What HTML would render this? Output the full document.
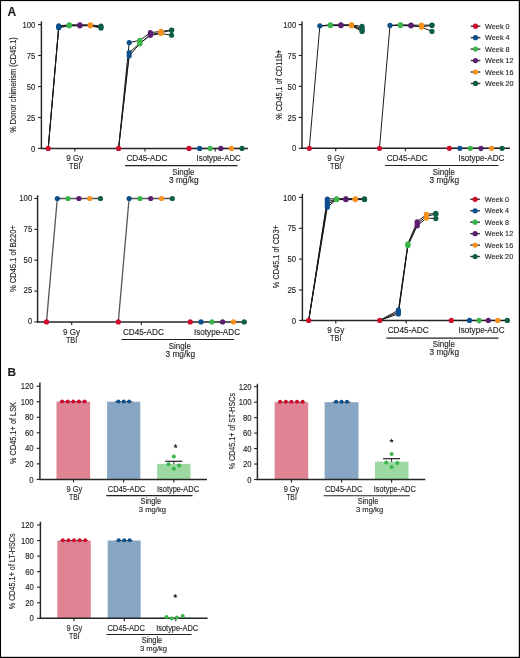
<!DOCTYPE html>
<html><head><meta charset="utf-8"><title>Figure</title>
<style>
html,body{margin:0;padding:0;background:#fff;}
body{width:520px;height:658px;overflow:hidden;}
svg{display:block;font-family:"Liberation Sans",sans-serif;fill:#231f20;}
svg text{fill:#231f20;stroke:#231f20;stroke-width:0.14px;}
</style></head><body>
<svg width="520" height="658" viewBox="0 0 520 658">
<rect x="0" y="0" width="520" height="658" fill="#fff"/>
<g style="will-change:transform">
<text x="7.40" y="15.70" font-size="12.0" font-weight="bold">A</text>
<line x1="41.40" y1="21.40" x2="41.40" y2="149.00" stroke="#262626" stroke-width="1.45"/>
<line x1="40.80" y1="148.40" x2="248.00" y2="148.40" stroke="#262626" stroke-width="1.45"/>
<line x1="38.10" y1="24.60" x2="41.40" y2="24.60" stroke="#231f20" stroke-width="1.1"/>
<text x="35.30" y="27.70" font-size="8.9" text-anchor="end" textLength="12.89" lengthAdjust="spacingAndGlyphs">100</text>
<line x1="38.10" y1="55.50" x2="41.40" y2="55.50" stroke="#231f20" stroke-width="1.1"/>
<text x="35.30" y="58.60" font-size="8.9" text-anchor="end" textLength="8.6" lengthAdjust="spacingAndGlyphs">75</text>
<line x1="38.10" y1="86.50" x2="41.40" y2="86.50" stroke="#231f20" stroke-width="1.1"/>
<text x="35.30" y="89.60" font-size="8.9" text-anchor="end" textLength="8.6" lengthAdjust="spacingAndGlyphs">50</text>
<line x1="38.10" y1="117.50" x2="41.40" y2="117.50" stroke="#231f20" stroke-width="1.1"/>
<text x="35.30" y="120.60" font-size="8.9" text-anchor="end" textLength="8.6" lengthAdjust="spacingAndGlyphs">25</text>
<line x1="38.10" y1="148.40" x2="41.40" y2="148.40" stroke="#231f20" stroke-width="1.1"/>
<text x="35.30" y="151.50" font-size="8.9" text-anchor="end" textLength="4.3" lengthAdjust="spacingAndGlyphs">0</text>
<text transform="translate(15.80,85.00) rotate(-90)" x="0" y="0" font-size="9.6" text-anchor="middle" textLength="95.5" lengthAdjust="spacingAndGlyphs">% Donor chimerism (CD45.1)</text>
<line x1="74.80" y1="148.40" x2="74.80" y2="151.40" stroke="#231f20" stroke-width="1.1"/>
<line x1="145.00" y1="148.40" x2="145.00" y2="151.40" stroke="#231f20" stroke-width="1.1"/>
<line x1="215.20" y1="148.40" x2="215.20" y2="151.40" stroke="#231f20" stroke-width="1.1"/>
<line x1="48.2" y1="148.4" x2="58.75" y2="25.84" stroke="#1a1a1a" stroke-width="1.0" stroke-linecap="round"/>
<line x1="58.75" y1="25.84" x2="69.3" y2="24.85" stroke="#1a1a1a" stroke-width="1.0" stroke-linecap="round"/>
<line x1="69.3" y1="24.85" x2="79.85" y2="24.85" stroke="#1a1a1a" stroke-width="1.0" stroke-linecap="round"/>
<line x1="79.85" y1="24.85" x2="90.4" y2="24.85" stroke="#1a1a1a" stroke-width="1.0" stroke-linecap="round"/>
<line x1="90.4" y1="24.85" x2="100.95" y2="26.09" stroke="#1a1a1a" stroke-width="1.0" stroke-linecap="round"/>
<line x1="48.2" y1="148.4" x2="58.75" y2="26.83" stroke="#1a1a1a" stroke-width="1.0" stroke-linecap="round"/>
<line x1="58.75" y1="26.83" x2="69.3" y2="25.34" stroke="#1a1a1a" stroke-width="1.0" stroke-linecap="round"/>
<line x1="69.3" y1="25.34" x2="79.85" y2="25.34" stroke="#1a1a1a" stroke-width="1.0" stroke-linecap="round"/>
<line x1="79.85" y1="25.34" x2="90.4" y2="25.34" stroke="#1a1a1a" stroke-width="1.0" stroke-linecap="round"/>
<line x1="90.4" y1="25.34" x2="100.95" y2="27.08" stroke="#1a1a1a" stroke-width="1.0" stroke-linecap="round"/>
<line x1="48.2" y1="148.4" x2="58.75" y2="27.69" stroke="#1a1a1a" stroke-width="1.0" stroke-linecap="round"/>
<line x1="58.75" y1="27.69" x2="69.3" y2="25.84" stroke="#1a1a1a" stroke-width="1.0" stroke-linecap="round"/>
<line x1="69.3" y1="25.84" x2="79.85" y2="25.84" stroke="#1a1a1a" stroke-width="1.0" stroke-linecap="round"/>
<line x1="79.85" y1="25.84" x2="90.4" y2="25.71" stroke="#1a1a1a" stroke-width="1.0" stroke-linecap="round"/>
<line x1="90.4" y1="25.71" x2="100.95" y2="28.07" stroke="#1a1a1a" stroke-width="1.0" stroke-linecap="round"/>
<line x1="118.6" y1="148.4" x2="129.2" y2="42.55" stroke="#1a1a1a" stroke-width="1.0" stroke-linecap="round"/>
<line x1="129.2" y1="42.55" x2="139.8" y2="40.32" stroke="#1a1a1a" stroke-width="1.0" stroke-linecap="round"/>
<line x1="139.8" y1="40.32" x2="150.4" y2="32.65" stroke="#1a1a1a" stroke-width="1.0" stroke-linecap="round"/>
<line x1="150.4" y1="32.65" x2="161.0" y2="31.41" stroke="#1a1a1a" stroke-width="1.0" stroke-linecap="round"/>
<line x1="161.0" y1="31.41" x2="171.6" y2="30.05" stroke="#1a1a1a" stroke-width="1.0" stroke-linecap="round"/>
<line x1="118.6" y1="148.4" x2="129.2" y2="52.7" stroke="#1a1a1a" stroke-width="1.0" stroke-linecap="round"/>
<line x1="129.2" y1="52.7" x2="139.8" y2="43.17" stroke="#1a1a1a" stroke-width="1.0" stroke-linecap="round"/>
<line x1="139.8" y1="43.17" x2="150.4" y2="35.37" stroke="#1a1a1a" stroke-width="1.0" stroke-linecap="round"/>
<line x1="150.4" y1="35.37" x2="161.0" y2="33.51" stroke="#1a1a1a" stroke-width="1.0" stroke-linecap="round"/>
<line x1="161.0" y1="33.51" x2="171.6" y2="35.25" stroke="#1a1a1a" stroke-width="1.0" stroke-linecap="round"/>
<line x1="118.6" y1="148.4" x2="129.2" y2="55.8" stroke="#1a1a1a" stroke-width="1.0" stroke-linecap="round"/>
<line x1="129.2" y1="55.8" x2="139.8" y2="43.79" stroke="#1a1a1a" stroke-width="1.0" stroke-linecap="round"/>
<line x1="139.8" y1="43.79" x2="150.4" y2="34.5" stroke="#1a1a1a" stroke-width="1.0" stroke-linecap="round"/>
<line x1="150.4" y1="34.5" x2="161.0" y2="32.65" stroke="#1a1a1a" stroke-width="1.0" stroke-linecap="round"/>
<line x1="161.0" y1="32.65" x2="171.6" y2="30.29" stroke="#1a1a1a" stroke-width="1.0" stroke-linecap="round"/>
<line x1="189.0" y1="148.4" x2="199.6" y2="148.4" stroke="#1a1a1a" stroke-width="1.0" stroke-linecap="round"/>
<line x1="199.6" y1="148.4" x2="210.2" y2="148.4" stroke="#1a1a1a" stroke-width="1.0" stroke-linecap="round"/>
<line x1="210.2" y1="148.4" x2="220.8" y2="148.4" stroke="#1a1a1a" stroke-width="1.0" stroke-linecap="round"/>
<line x1="220.8" y1="148.4" x2="231.4" y2="148.4" stroke="#1a1a1a" stroke-width="1.0" stroke-linecap="round"/>
<line x1="231.4" y1="148.4" x2="242.0" y2="148.4" stroke="#1a1a1a" stroke-width="1.0" stroke-linecap="round"/>
<circle cx="48.20" cy="148.40" r="2.6" fill="#cf0a2c"/>
<circle cx="58.75" cy="25.84" r="2.6" fill="#0b4f8c"/>
<circle cx="58.75" cy="26.83" r="2.6" fill="#0b4f8c"/>
<circle cx="58.75" cy="27.69" r="2.6" fill="#0b4f8c"/>
<circle cx="69.30" cy="24.85" r="2.6" fill="#3ab54a"/>
<circle cx="69.30" cy="25.34" r="2.6" fill="#3ab54a"/>
<circle cx="69.30" cy="25.84" r="2.6" fill="#3ab54a"/>
<circle cx="79.85" cy="24.85" r="2.6" fill="#5b1f72"/>
<circle cx="79.85" cy="25.34" r="2.6" fill="#5b1f72"/>
<circle cx="79.85" cy="25.84" r="2.6" fill="#5b1f72"/>
<circle cx="90.40" cy="24.85" r="2.6" fill="#f7901e"/>
<circle cx="90.40" cy="25.34" r="2.6" fill="#f7901e"/>
<circle cx="90.40" cy="25.71" r="2.6" fill="#f7901e"/>
<circle cx="100.95" cy="26.09" r="2.6" fill="#0d5e48"/>
<circle cx="100.95" cy="27.08" r="2.6" fill="#0d5e48"/>
<circle cx="100.95" cy="28.07" r="2.6" fill="#0d5e48"/>
<circle cx="118.60" cy="148.40" r="2.6" fill="#cf0a2c"/>
<circle cx="129.20" cy="42.55" r="2.6" fill="#0b4f8c"/>
<circle cx="129.20" cy="52.70" r="2.6" fill="#0b4f8c"/>
<circle cx="129.20" cy="55.80" r="2.6" fill="#0b4f8c"/>
<circle cx="139.80" cy="40.32" r="2.6" fill="#3ab54a"/>
<circle cx="139.80" cy="43.17" r="2.6" fill="#3ab54a"/>
<circle cx="139.80" cy="43.79" r="2.6" fill="#3ab54a"/>
<circle cx="150.40" cy="32.65" r="2.6" fill="#5b1f72"/>
<circle cx="150.40" cy="35.37" r="2.6" fill="#5b1f72"/>
<circle cx="150.40" cy="34.50" r="2.6" fill="#5b1f72"/>
<circle cx="161.00" cy="31.41" r="2.6" fill="#f7901e"/>
<circle cx="161.00" cy="33.51" r="2.6" fill="#f7901e"/>
<circle cx="161.00" cy="32.65" r="2.6" fill="#f7901e"/>
<circle cx="171.60" cy="30.05" r="2.6" fill="#0d5e48"/>
<circle cx="171.60" cy="35.25" r="2.6" fill="#0d5e48"/>
<circle cx="171.60" cy="30.29" r="2.6" fill="#0d5e48"/>
<circle cx="189.00" cy="148.40" r="2.6" fill="#cf0a2c"/>
<circle cx="199.60" cy="148.40" r="2.6" fill="#0b4f8c"/>
<circle cx="210.20" cy="148.40" r="2.6" fill="#3ab54a"/>
<circle cx="220.80" cy="148.40" r="2.6" fill="#5b1f72"/>
<circle cx="231.40" cy="148.40" r="2.6" fill="#f7901e"/>
<circle cx="242.00" cy="148.40" r="2.6" fill="#0d5e48"/>
<text x="74.80" y="160.80" font-size="8.4" text-anchor="middle" textLength="17.0" lengthAdjust="spacingAndGlyphs">9 Gy</text>
<text x="74.80" y="169.40" font-size="8.4" text-anchor="middle" textLength="11.4" lengthAdjust="spacingAndGlyphs">TBI</text>
<text x="146.90" y="160.80" font-size="8.4" text-anchor="middle" textLength="41" lengthAdjust="spacingAndGlyphs">CD45-ADC</text>
<text x="218.60" y="160.80" font-size="8.4" text-anchor="middle" textLength="44" lengthAdjust="spacingAndGlyphs">Isotype-ADC</text>
<line x1="125.00" y1="165.60" x2="237.50" y2="165.60" stroke="#231f20" stroke-width="1.1"/>
<text x="183.30" y="174.70" font-size="8.4" text-anchor="middle" textLength="22.2" lengthAdjust="spacingAndGlyphs">Single</text>
<text x="183.80" y="182.70" font-size="8.4" text-anchor="middle" textLength="29.5" lengthAdjust="spacingAndGlyphs">3 mg/kg</text>
<line x1="302.00" y1="21.40" x2="302.00" y2="148.90" stroke="#262626" stroke-width="1.45"/>
<line x1="301.40" y1="148.30" x2="510.00" y2="148.30" stroke="#262626" stroke-width="1.45"/>
<line x1="298.70" y1="24.60" x2="302.00" y2="24.60" stroke="#231f20" stroke-width="1.1"/>
<text x="296.20" y="27.70" font-size="8.9" text-anchor="end" textLength="12.89" lengthAdjust="spacingAndGlyphs">100</text>
<line x1="298.70" y1="55.50" x2="302.00" y2="55.50" stroke="#231f20" stroke-width="1.1"/>
<text x="296.20" y="58.60" font-size="8.9" text-anchor="end" textLength="8.6" lengthAdjust="spacingAndGlyphs">75</text>
<line x1="298.70" y1="86.40" x2="302.00" y2="86.40" stroke="#231f20" stroke-width="1.1"/>
<text x="296.20" y="89.50" font-size="8.9" text-anchor="end" textLength="8.6" lengthAdjust="spacingAndGlyphs">50</text>
<line x1="298.70" y1="117.40" x2="302.00" y2="117.40" stroke="#231f20" stroke-width="1.1"/>
<text x="296.20" y="120.50" font-size="8.9" text-anchor="end" textLength="8.6" lengthAdjust="spacingAndGlyphs">25</text>
<line x1="298.70" y1="148.30" x2="302.00" y2="148.30" stroke="#231f20" stroke-width="1.1"/>
<text x="296.20" y="151.40" font-size="8.9" text-anchor="end" textLength="4.3" lengthAdjust="spacingAndGlyphs">0</text>
<text transform="translate(282.20,84.70) rotate(-90)" x="0" y="0" font-size="9.6" text-anchor="middle" textLength="70" lengthAdjust="spacingAndGlyphs">% CD45.1 of CD11b+</text>
<line x1="335.70" y1="148.30" x2="335.70" y2="151.30" stroke="#231f20" stroke-width="1.1"/>
<line x1="405.40" y1="148.30" x2="405.40" y2="151.30" stroke="#231f20" stroke-width="1.1"/>
<line x1="480.90" y1="148.30" x2="480.90" y2="151.30" stroke="#231f20" stroke-width="1.1"/>
<line x1="309.3" y1="148.3" x2="319.85" y2="25.84" stroke="#1a1a1a" stroke-width="1.0" stroke-linecap="round"/>
<line x1="319.85" y1="25.84" x2="330.4" y2="24.85" stroke="#1a1a1a" stroke-width="1.0" stroke-linecap="round"/>
<line x1="330.4" y1="24.85" x2="340.95" y2="24.85" stroke="#1a1a1a" stroke-width="1.0" stroke-linecap="round"/>
<line x1="340.95" y1="24.85" x2="351.5" y2="24.85" stroke="#1a1a1a" stroke-width="1.0" stroke-linecap="round"/>
<line x1="351.5" y1="24.85" x2="362.05" y2="26.46" stroke="#1a1a1a" stroke-width="1.0" stroke-linecap="round"/>
<line x1="319.85" y1="25.84" x2="330.4" y2="25.22" stroke="#1a1a1a" stroke-width="1.0" stroke-linecap="round"/>
<line x1="330.4" y1="25.22" x2="340.95" y2="25.22" stroke="#1a1a1a" stroke-width="1.0" stroke-linecap="round"/>
<line x1="340.95" y1="25.22" x2="351.5" y2="25.22" stroke="#1a1a1a" stroke-width="1.0" stroke-linecap="round"/>
<line x1="351.5" y1="25.22" x2="362.05" y2="28.31" stroke="#1a1a1a" stroke-width="1.0" stroke-linecap="round"/>
<line x1="319.85" y1="25.84" x2="330.4" y2="25.59" stroke="#1a1a1a" stroke-width="1.0" stroke-linecap="round"/>
<line x1="330.4" y1="25.59" x2="340.95" y2="25.59" stroke="#1a1a1a" stroke-width="1.0" stroke-linecap="round"/>
<line x1="340.95" y1="25.59" x2="351.5" y2="25.59" stroke="#1a1a1a" stroke-width="1.0" stroke-linecap="round"/>
<line x1="351.5" y1="25.59" x2="362.05" y2="30.17" stroke="#1a1a1a" stroke-width="1.0" stroke-linecap="round"/>
<line x1="340.95" y1="25.22" x2="351.5" y2="25.71" stroke="#1a1a1a" stroke-width="1.0" stroke-linecap="round"/>
<line x1="351.5" y1="25.71" x2="362.05" y2="31.4" stroke="#1a1a1a" stroke-width="1.0" stroke-linecap="round"/>
<line x1="379.5" y1="148.3" x2="390.0" y2="25.47" stroke="#1a1a1a" stroke-width="1.0" stroke-linecap="round"/>
<line x1="390.0" y1="25.47" x2="400.5" y2="24.85" stroke="#1a1a1a" stroke-width="1.0" stroke-linecap="round"/>
<line x1="400.5" y1="24.85" x2="411.0" y2="25.09" stroke="#1a1a1a" stroke-width="1.0" stroke-linecap="round"/>
<line x1="411.0" y1="25.09" x2="421.5" y2="25.22" stroke="#1a1a1a" stroke-width="1.0" stroke-linecap="round"/>
<line x1="421.5" y1="25.22" x2="432.0" y2="25.09" stroke="#1a1a1a" stroke-width="1.0" stroke-linecap="round"/>
<line x1="390.0" y1="25.47" x2="400.5" y2="25.22" stroke="#1a1a1a" stroke-width="1.0" stroke-linecap="round"/>
<line x1="400.5" y1="25.22" x2="411.0" y2="25.47" stroke="#1a1a1a" stroke-width="1.0" stroke-linecap="round"/>
<line x1="411.0" y1="25.47" x2="421.5" y2="27.07" stroke="#1a1a1a" stroke-width="1.0" stroke-linecap="round"/>
<line x1="421.5" y1="27.07" x2="432.0" y2="31.4" stroke="#1a1a1a" stroke-width="1.0" stroke-linecap="round"/>
<line x1="390.0" y1="25.47" x2="400.5" y2="25.59" stroke="#1a1a1a" stroke-width="1.0" stroke-linecap="round"/>
<line x1="400.5" y1="25.59" x2="411.0" y2="25.84" stroke="#1a1a1a" stroke-width="1.0" stroke-linecap="round"/>
<line x1="411.0" y1="25.84" x2="421.5" y2="26.7" stroke="#1a1a1a" stroke-width="1.0" stroke-linecap="round"/>
<line x1="421.5" y1="26.7" x2="432.0" y2="25.47" stroke="#1a1a1a" stroke-width="1.0" stroke-linecap="round"/>
<line x1="449.3" y1="148.3" x2="459.85" y2="148.3" stroke="#1a1a1a" stroke-width="1.0" stroke-linecap="round"/>
<line x1="459.85" y1="148.3" x2="470.4" y2="148.3" stroke="#1a1a1a" stroke-width="1.0" stroke-linecap="round"/>
<line x1="470.4" y1="148.3" x2="480.95" y2="148.3" stroke="#1a1a1a" stroke-width="1.0" stroke-linecap="round"/>
<line x1="480.95" y1="148.3" x2="491.5" y2="148.3" stroke="#1a1a1a" stroke-width="1.0" stroke-linecap="round"/>
<line x1="491.5" y1="148.3" x2="502.05" y2="148.3" stroke="#1a1a1a" stroke-width="1.0" stroke-linecap="round"/>
<circle cx="309.30" cy="148.30" r="2.6" fill="#cf0a2c"/>
<circle cx="319.85" cy="25.84" r="2.6" fill="#0b4f8c"/>
<circle cx="330.40" cy="24.85" r="2.6" fill="#3ab54a"/>
<circle cx="330.40" cy="25.22" r="2.6" fill="#3ab54a"/>
<circle cx="330.40" cy="25.59" r="2.6" fill="#3ab54a"/>
<circle cx="340.95" cy="24.85" r="2.6" fill="#5b1f72"/>
<circle cx="340.95" cy="25.22" r="2.6" fill="#5b1f72"/>
<circle cx="340.95" cy="25.59" r="2.6" fill="#5b1f72"/>
<circle cx="351.50" cy="24.85" r="2.6" fill="#f7901e"/>
<circle cx="351.50" cy="25.22" r="2.6" fill="#f7901e"/>
<circle cx="351.50" cy="25.59" r="2.6" fill="#f7901e"/>
<circle cx="351.50" cy="25.71" r="2.6" fill="#f7901e"/>
<circle cx="362.05" cy="26.46" r="2.6" fill="#0d5e48"/>
<circle cx="362.05" cy="28.31" r="2.6" fill="#0d5e48"/>
<circle cx="362.05" cy="30.17" r="2.6" fill="#0d5e48"/>
<circle cx="362.05" cy="31.40" r="2.6" fill="#0d5e48"/>
<circle cx="379.50" cy="148.30" r="2.6" fill="#cf0a2c"/>
<circle cx="390.00" cy="25.47" r="2.6" fill="#0b4f8c"/>
<circle cx="400.50" cy="24.85" r="2.6" fill="#3ab54a"/>
<circle cx="400.50" cy="25.22" r="2.6" fill="#3ab54a"/>
<circle cx="400.50" cy="25.59" r="2.6" fill="#3ab54a"/>
<circle cx="411.00" cy="25.09" r="2.6" fill="#5b1f72"/>
<circle cx="411.00" cy="25.47" r="2.6" fill="#5b1f72"/>
<circle cx="411.00" cy="25.84" r="2.6" fill="#5b1f72"/>
<circle cx="421.50" cy="25.22" r="2.6" fill="#f7901e"/>
<circle cx="421.50" cy="27.07" r="2.6" fill="#f7901e"/>
<circle cx="421.50" cy="26.70" r="2.6" fill="#f7901e"/>
<circle cx="432.00" cy="25.09" r="2.6" fill="#0d5e48"/>
<circle cx="432.00" cy="31.40" r="2.6" fill="#0d5e48"/>
<circle cx="432.00" cy="25.47" r="2.6" fill="#0d5e48"/>
<circle cx="449.30" cy="148.30" r="2.6" fill="#cf0a2c"/>
<circle cx="459.85" cy="148.30" r="2.6" fill="#0b4f8c"/>
<circle cx="470.40" cy="148.30" r="2.6" fill="#3ab54a"/>
<circle cx="480.95" cy="148.30" r="2.6" fill="#5b1f72"/>
<circle cx="491.50" cy="148.30" r="2.6" fill="#f7901e"/>
<circle cx="502.05" cy="148.30" r="2.6" fill="#0d5e48"/>
<text x="335.70" y="160.70" font-size="8.4" text-anchor="middle" textLength="17.0" lengthAdjust="spacingAndGlyphs">9 Gy</text>
<text x="335.70" y="169.30" font-size="8.4" text-anchor="middle" textLength="11.4" lengthAdjust="spacingAndGlyphs">TBI</text>
<text x="407.20" y="160.70" font-size="8.4" text-anchor="middle" textLength="41" lengthAdjust="spacingAndGlyphs">CD45-ADC</text>
<text x="481.40" y="160.70" font-size="8.4" text-anchor="middle" textLength="46" lengthAdjust="spacingAndGlyphs">Isotype-ADC</text>
<line x1="385.00" y1="165.50" x2="498.40" y2="165.50" stroke="#231f20" stroke-width="1.1"/>
<text x="443.80" y="174.60" font-size="8.4" text-anchor="middle" textLength="22.2" lengthAdjust="spacingAndGlyphs">Single</text>
<text x="444.30" y="182.60" font-size="8.4" text-anchor="middle" textLength="29.5" lengthAdjust="spacingAndGlyphs">3 mg/kg</text>
<line x1="470.70" y1="26.20" x2="480.30" y2="26.20" stroke="#333" stroke-width="1.4"/>
<circle cx="475.50" cy="26.20" r="2.6" fill="#cf0a2c"/>
<text x="485.10" y="28.90" font-size="7.6" textLength="24.47" lengthAdjust="spacingAndGlyphs">Week 0</text>
<line x1="470.70" y1="37.65" x2="480.30" y2="37.65" stroke="#333" stroke-width="1.4"/>
<circle cx="475.50" cy="37.65" r="2.6" fill="#0b4f8c"/>
<text x="485.10" y="40.35" font-size="7.6" textLength="24.47" lengthAdjust="spacingAndGlyphs">Week 4</text>
<line x1="470.70" y1="49.10" x2="480.30" y2="49.10" stroke="#333" stroke-width="1.4"/>
<circle cx="475.50" cy="49.10" r="2.6" fill="#3ab54a"/>
<text x="485.10" y="51.80" font-size="7.6" textLength="24.47" lengthAdjust="spacingAndGlyphs">Week 8</text>
<line x1="470.70" y1="60.55" x2="480.30" y2="60.55" stroke="#333" stroke-width="1.4"/>
<circle cx="475.50" cy="60.55" r="2.6" fill="#5b1f72"/>
<text x="485.10" y="63.25" font-size="7.6" textLength="28.51" lengthAdjust="spacingAndGlyphs">Week 12</text>
<line x1="470.70" y1="72.00" x2="480.30" y2="72.00" stroke="#333" stroke-width="1.4"/>
<circle cx="475.50" cy="72.00" r="2.6" fill="#f7901e"/>
<text x="485.10" y="74.70" font-size="7.6" textLength="28.51" lengthAdjust="spacingAndGlyphs">Week 16</text>
<line x1="470.70" y1="83.45" x2="480.30" y2="83.45" stroke="#333" stroke-width="1.4"/>
<circle cx="475.50" cy="83.45" r="2.6" fill="#0d5e48"/>
<text x="485.10" y="86.15" font-size="7.6" textLength="28.51" lengthAdjust="spacingAndGlyphs">Week 20</text>
<line x1="37.60" y1="195.30" x2="37.60" y2="322.50" stroke="#262626" stroke-width="1.45"/>
<line x1="37.00" y1="321.90" x2="247.00" y2="321.90" stroke="#262626" stroke-width="1.45"/>
<line x1="34.30" y1="198.50" x2="37.60" y2="198.50" stroke="#231f20" stroke-width="1.1"/>
<text x="32.20" y="200.80" font-size="8.9" text-anchor="end" textLength="12.89" lengthAdjust="spacingAndGlyphs">100</text>
<line x1="34.30" y1="229.40" x2="37.60" y2="229.40" stroke="#231f20" stroke-width="1.1"/>
<text x="32.20" y="231.70" font-size="8.9" text-anchor="end" textLength="8.6" lengthAdjust="spacingAndGlyphs">75</text>
<line x1="34.30" y1="260.20" x2="37.60" y2="260.20" stroke="#231f20" stroke-width="1.1"/>
<text x="32.20" y="262.50" font-size="8.9" text-anchor="end" textLength="8.6" lengthAdjust="spacingAndGlyphs">50</text>
<line x1="34.30" y1="291.10" x2="37.60" y2="291.10" stroke="#231f20" stroke-width="1.1"/>
<text x="32.20" y="293.40" font-size="8.9" text-anchor="end" textLength="8.6" lengthAdjust="spacingAndGlyphs">25</text>
<line x1="34.30" y1="321.90" x2="37.60" y2="321.90" stroke="#231f20" stroke-width="1.1"/>
<text x="32.20" y="324.20" font-size="8.9" text-anchor="end" textLength="4.3" lengthAdjust="spacingAndGlyphs">0</text>
<text transform="translate(16.10,258.60) rotate(-90)" x="0" y="0" font-size="9.6" text-anchor="middle" textLength="67" lengthAdjust="spacingAndGlyphs">% CD45.1 of B220+</text>
<line x1="71.70" y1="321.90" x2="71.70" y2="324.90" stroke="#231f20" stroke-width="1.1"/>
<line x1="141.40" y1="321.90" x2="141.40" y2="324.90" stroke="#231f20" stroke-width="1.1"/>
<line x1="46.5" y1="321.9" x2="57.3" y2="198.5" stroke="#555" stroke-width="1.3" stroke-linecap="round"/>
<line x1="57.3" y1="198.5" x2="68.1" y2="198.5" stroke="#555" stroke-width="1.3" stroke-linecap="round"/>
<line x1="68.1" y1="198.5" x2="78.9" y2="198.5" stroke="#555" stroke-width="1.3" stroke-linecap="round"/>
<line x1="78.9" y1="198.5" x2="89.7" y2="198.5" stroke="#555" stroke-width="1.3" stroke-linecap="round"/>
<line x1="89.7" y1="198.5" x2="100.5" y2="198.5" stroke="#555" stroke-width="1.3" stroke-linecap="round"/>
<line x1="118.3" y1="321.9" x2="129.1" y2="198.5" stroke="#555" stroke-width="1.3" stroke-linecap="round"/>
<line x1="129.1" y1="198.5" x2="139.9" y2="198.5" stroke="#555" stroke-width="1.3" stroke-linecap="round"/>
<line x1="139.9" y1="198.5" x2="150.7" y2="198.5" stroke="#555" stroke-width="1.3" stroke-linecap="round"/>
<line x1="150.7" y1="198.5" x2="161.5" y2="198.5" stroke="#555" stroke-width="1.3" stroke-linecap="round"/>
<line x1="161.5" y1="198.5" x2="172.3" y2="198.5" stroke="#555" stroke-width="1.3" stroke-linecap="round"/>
<line x1="190.2" y1="321.9" x2="201.0" y2="321.9" stroke="#555" stroke-width="1.3" stroke-linecap="round"/>
<line x1="201.0" y1="321.9" x2="211.8" y2="321.9" stroke="#555" stroke-width="1.3" stroke-linecap="round"/>
<line x1="211.8" y1="321.9" x2="222.6" y2="321.9" stroke="#555" stroke-width="1.3" stroke-linecap="round"/>
<line x1="222.6" y1="321.9" x2="233.4" y2="321.9" stroke="#555" stroke-width="1.3" stroke-linecap="round"/>
<line x1="233.4" y1="321.9" x2="244.2" y2="321.9" stroke="#555" stroke-width="1.3" stroke-linecap="round"/>
<circle cx="46.50" cy="321.90" r="2.6" fill="#cf0a2c"/>
<circle cx="57.30" cy="198.50" r="2.6" fill="#0b4f8c"/>
<circle cx="68.10" cy="198.50" r="2.6" fill="#3ab54a"/>
<circle cx="78.90" cy="198.50" r="2.6" fill="#5b1f72"/>
<circle cx="89.70" cy="198.50" r="2.6" fill="#f7901e"/>
<circle cx="100.50" cy="198.50" r="2.6" fill="#0d5e48"/>
<circle cx="118.30" cy="321.90" r="2.6" fill="#cf0a2c"/>
<circle cx="129.10" cy="198.50" r="2.6" fill="#0b4f8c"/>
<circle cx="139.90" cy="198.50" r="2.6" fill="#3ab54a"/>
<circle cx="150.70" cy="198.50" r="2.6" fill="#5b1f72"/>
<circle cx="161.50" cy="198.50" r="2.6" fill="#f7901e"/>
<circle cx="172.30" cy="198.50" r="2.6" fill="#0d5e48"/>
<circle cx="190.20" cy="321.90" r="2.6" fill="#cf0a2c"/>
<circle cx="201.00" cy="321.90" r="2.6" fill="#0b4f8c"/>
<circle cx="211.80" cy="321.90" r="2.6" fill="#3ab54a"/>
<circle cx="222.60" cy="321.90" r="2.6" fill="#5b1f72"/>
<circle cx="233.40" cy="321.90" r="2.6" fill="#f7901e"/>
<circle cx="244.20" cy="321.90" r="2.6" fill="#0d5e48"/>
<text x="71.60" y="334.60" font-size="8.4" text-anchor="middle" textLength="17.0" lengthAdjust="spacingAndGlyphs">9 Gy</text>
<text x="71.60" y="342.90" font-size="8.4" text-anchor="middle" textLength="11.4" lengthAdjust="spacingAndGlyphs">TBI</text>
<text x="143.40" y="334.60" font-size="8.4" text-anchor="middle" textLength="41" lengthAdjust="spacingAndGlyphs">CD45-ADC</text>
<text x="217.00" y="334.60" font-size="8.4" text-anchor="middle" textLength="46" lengthAdjust="spacingAndGlyphs">Isotype-ADC</text>
<line x1="121.50" y1="339.50" x2="234.00" y2="339.50" stroke="#231f20" stroke-width="1.1"/>
<text x="179.80" y="348.50" font-size="8.4" text-anchor="middle" textLength="22.2" lengthAdjust="spacingAndGlyphs">Single</text>
<text x="180.30" y="356.70" font-size="8.4" text-anchor="middle" textLength="29.5" lengthAdjust="spacingAndGlyphs">3 mg/kg</text>
<line x1="302.40" y1="193.80" x2="302.40" y2="321.00" stroke="#262626" stroke-width="1.45"/>
<line x1="301.80" y1="320.40" x2="510.00" y2="320.40" stroke="#262626" stroke-width="1.45"/>
<line x1="299.10" y1="197.40" x2="302.40" y2="197.40" stroke="#231f20" stroke-width="1.1"/>
<text x="296.00" y="200.50" font-size="8.9" text-anchor="end" textLength="12.89" lengthAdjust="spacingAndGlyphs">100</text>
<line x1="299.10" y1="228.30" x2="302.40" y2="228.30" stroke="#231f20" stroke-width="1.1"/>
<text x="296.00" y="231.40" font-size="8.9" text-anchor="end" textLength="8.6" lengthAdjust="spacingAndGlyphs">75</text>
<line x1="299.10" y1="259.10" x2="302.40" y2="259.10" stroke="#231f20" stroke-width="1.1"/>
<text x="296.00" y="262.20" font-size="8.9" text-anchor="end" textLength="8.6" lengthAdjust="spacingAndGlyphs">50</text>
<line x1="299.10" y1="290.00" x2="302.40" y2="290.00" stroke="#231f20" stroke-width="1.1"/>
<text x="296.00" y="293.10" font-size="8.9" text-anchor="end" textLength="8.6" lengthAdjust="spacingAndGlyphs">25</text>
<line x1="299.10" y1="320.40" x2="302.40" y2="320.40" stroke="#231f20" stroke-width="1.1"/>
<text x="296.00" y="323.50" font-size="8.9" text-anchor="end" textLength="4.3" lengthAdjust="spacingAndGlyphs">0</text>
<text transform="translate(279.00,256.70) rotate(-90)" x="0" y="0" font-size="9.6" text-anchor="middle" textLength="63" lengthAdjust="spacingAndGlyphs">% CD45.1 of CD3+</text>
<line x1="335.80" y1="320.40" x2="335.80" y2="323.40" stroke="#231f20" stroke-width="1.1"/>
<line x1="406.20" y1="320.40" x2="406.20" y2="323.40" stroke="#231f20" stroke-width="1.1"/>
<line x1="479.00" y1="320.40" x2="479.00" y2="323.40" stroke="#231f20" stroke-width="1.1"/>
<line x1="308.7" y1="320.4" x2="327.3" y2="199.0" stroke="#1a1a1a" stroke-width="1.0" stroke-linecap="round"/>
<line x1="327.3" y1="199.0" x2="336.6" y2="198.75" stroke="#1a1a1a" stroke-width="1.0" stroke-linecap="round"/>
<line x1="336.6" y1="198.75" x2="345.9" y2="198.75" stroke="#1a1a1a" stroke-width="1.0" stroke-linecap="round"/>
<line x1="345.9" y1="198.75" x2="355.3" y2="198.75" stroke="#1a1a1a" stroke-width="1.0" stroke-linecap="round"/>
<line x1="355.3" y1="198.75" x2="364.5" y2="198.88" stroke="#1a1a1a" stroke-width="1.0" stroke-linecap="round"/>
<line x1="308.7" y1="320.4" x2="327.3" y2="201.7" stroke="#1a1a1a" stroke-width="1.0" stroke-linecap="round"/>
<line x1="327.3" y1="201.7" x2="336.6" y2="199.25" stroke="#1a1a1a" stroke-width="1.0" stroke-linecap="round"/>
<line x1="336.6" y1="199.25" x2="345.9" y2="199.25" stroke="#1a1a1a" stroke-width="1.0" stroke-linecap="round"/>
<line x1="345.9" y1="199.25" x2="355.3" y2="199.25" stroke="#1a1a1a" stroke-width="1.0" stroke-linecap="round"/>
<line x1="355.3" y1="199.25" x2="364.5" y2="199.25" stroke="#1a1a1a" stroke-width="1.0" stroke-linecap="round"/>
<line x1="308.7" y1="320.4" x2="327.3" y2="204.17" stroke="#1a1a1a" stroke-width="1.0" stroke-linecap="round"/>
<line x1="327.3" y1="204.17" x2="336.6" y2="199.61" stroke="#1a1a1a" stroke-width="1.0" stroke-linecap="round"/>
<line x1="336.6" y1="199.61" x2="345.9" y2="199.61" stroke="#1a1a1a" stroke-width="1.0" stroke-linecap="round"/>
<line x1="345.9" y1="199.61" x2="355.3" y2="199.61" stroke="#1a1a1a" stroke-width="1.0" stroke-linecap="round"/>
<line x1="355.3" y1="199.61" x2="364.5" y2="199.61" stroke="#1a1a1a" stroke-width="1.0" stroke-linecap="round"/>
<line x1="308.7" y1="320.4" x2="327.3" y2="207.24" stroke="#1a1a1a" stroke-width="1.0" stroke-linecap="round"/>
<line x1="327.3" y1="207.24" x2="336.6" y2="199.12" stroke="#1a1a1a" stroke-width="1.0" stroke-linecap="round"/>
<line x1="336.6" y1="199.12" x2="345.9" y2="199.12" stroke="#1a1a1a" stroke-width="1.0" stroke-linecap="round"/>
<line x1="345.9" y1="199.12" x2="355.3" y2="199.12" stroke="#1a1a1a" stroke-width="1.0" stroke-linecap="round"/>
<line x1="355.3" y1="199.12" x2="364.5" y2="199.25" stroke="#1a1a1a" stroke-width="1.0" stroke-linecap="round"/>
<line x1="379.8" y1="320.4" x2="398.4" y2="310.19" stroke="#1a1a1a" stroke-width="1.0" stroke-linecap="round"/>
<line x1="398.4" y1="310.19" x2="407.9" y2="243.77" stroke="#1a1a1a" stroke-width="1.0" stroke-linecap="round"/>
<line x1="407.9" y1="243.77" x2="417.2" y2="221.75" stroke="#1a1a1a" stroke-width="1.0" stroke-linecap="round"/>
<line x1="417.2" y1="221.75" x2="426.4" y2="214.37" stroke="#1a1a1a" stroke-width="1.0" stroke-linecap="round"/>
<line x1="426.4" y1="214.37" x2="435.8" y2="213.39" stroke="#1a1a1a" stroke-width="1.0" stroke-linecap="round"/>
<line x1="379.8" y1="320.4" x2="398.4" y2="312.04" stroke="#1a1a1a" stroke-width="1.0" stroke-linecap="round"/>
<line x1="398.4" y1="312.04" x2="407.9" y2="244.75" stroke="#1a1a1a" stroke-width="1.0" stroke-linecap="round"/>
<line x1="407.9" y1="244.75" x2="417.2" y2="223.72" stroke="#1a1a1a" stroke-width="1.0" stroke-linecap="round"/>
<line x1="417.2" y1="223.72" x2="426.4" y2="216.22" stroke="#1a1a1a" stroke-width="1.0" stroke-linecap="round"/>
<line x1="426.4" y1="216.22" x2="435.8" y2="214.13" stroke="#1a1a1a" stroke-width="1.0" stroke-linecap="round"/>
<line x1="379.8" y1="320.4" x2="398.4" y2="313.88" stroke="#1a1a1a" stroke-width="1.0" stroke-linecap="round"/>
<line x1="398.4" y1="313.88" x2="407.9" y2="245.62" stroke="#1a1a1a" stroke-width="1.0" stroke-linecap="round"/>
<line x1="407.9" y1="245.62" x2="417.2" y2="225.81" stroke="#1a1a1a" stroke-width="1.0" stroke-linecap="round"/>
<line x1="417.2" y1="225.81" x2="426.4" y2="218.06" stroke="#1a1a1a" stroke-width="1.0" stroke-linecap="round"/>
<line x1="426.4" y1="218.06" x2="435.8" y2="218.56" stroke="#1a1a1a" stroke-width="1.0" stroke-linecap="round"/>
<line x1="451.3" y1="320.4" x2="469.5" y2="320.4" stroke="#1a1a1a" stroke-width="1.0" stroke-linecap="round"/>
<line x1="469.5" y1="320.4" x2="479.0" y2="320.4" stroke="#1a1a1a" stroke-width="1.0" stroke-linecap="round"/>
<line x1="479.0" y1="320.4" x2="488.3" y2="320.4" stroke="#1a1a1a" stroke-width="1.0" stroke-linecap="round"/>
<line x1="488.3" y1="320.4" x2="497.8" y2="320.4" stroke="#1a1a1a" stroke-width="1.0" stroke-linecap="round"/>
<line x1="497.8" y1="320.4" x2="507.3" y2="320.4" stroke="#1a1a1a" stroke-width="1.0" stroke-linecap="round"/>
<circle cx="308.70" cy="320.40" r="2.6" fill="#cf0a2c"/>
<circle cx="327.30" cy="199.00" r="2.6" fill="#0b4f8c"/>
<circle cx="327.30" cy="201.70" r="2.6" fill="#0b4f8c"/>
<circle cx="327.30" cy="204.17" r="2.6" fill="#0b4f8c"/>
<circle cx="327.30" cy="207.24" r="2.6" fill="#0b4f8c"/>
<circle cx="336.60" cy="198.75" r="2.6" fill="#3ab54a"/>
<circle cx="336.60" cy="199.25" r="2.6" fill="#3ab54a"/>
<circle cx="336.60" cy="199.61" r="2.6" fill="#3ab54a"/>
<circle cx="336.60" cy="199.12" r="2.6" fill="#3ab54a"/>
<circle cx="345.90" cy="198.75" r="2.6" fill="#5b1f72"/>
<circle cx="345.90" cy="199.25" r="2.6" fill="#5b1f72"/>
<circle cx="345.90" cy="199.61" r="2.6" fill="#5b1f72"/>
<circle cx="345.90" cy="199.12" r="2.6" fill="#5b1f72"/>
<circle cx="355.30" cy="198.75" r="2.6" fill="#f7901e"/>
<circle cx="355.30" cy="199.25" r="2.6" fill="#f7901e"/>
<circle cx="355.30" cy="199.61" r="2.6" fill="#f7901e"/>
<circle cx="355.30" cy="199.12" r="2.6" fill="#f7901e"/>
<circle cx="364.50" cy="198.88" r="2.6" fill="#0d5e48"/>
<circle cx="364.50" cy="199.25" r="2.6" fill="#0d5e48"/>
<circle cx="364.50" cy="199.61" r="2.6" fill="#0d5e48"/>
<circle cx="379.80" cy="320.40" r="2.6" fill="#cf0a2c"/>
<circle cx="398.40" cy="310.19" r="2.6" fill="#0b4f8c"/>
<circle cx="398.40" cy="312.04" r="2.6" fill="#0b4f8c"/>
<circle cx="398.40" cy="313.88" r="2.6" fill="#0b4f8c"/>
<circle cx="407.90" cy="243.77" r="2.6" fill="#3ab54a"/>
<circle cx="407.90" cy="244.75" r="2.6" fill="#3ab54a"/>
<circle cx="407.90" cy="245.62" r="2.6" fill="#3ab54a"/>
<circle cx="417.20" cy="221.75" r="2.6" fill="#5b1f72"/>
<circle cx="417.20" cy="223.72" r="2.6" fill="#5b1f72"/>
<circle cx="417.20" cy="225.81" r="2.6" fill="#5b1f72"/>
<circle cx="426.40" cy="214.37" r="2.6" fill="#f7901e"/>
<circle cx="426.40" cy="216.22" r="2.6" fill="#f7901e"/>
<circle cx="426.40" cy="218.06" r="2.6" fill="#f7901e"/>
<circle cx="435.80" cy="213.39" r="2.6" fill="#0d5e48"/>
<circle cx="435.80" cy="214.13" r="2.6" fill="#0d5e48"/>
<circle cx="435.80" cy="218.56" r="2.6" fill="#0d5e48"/>
<circle cx="451.30" cy="320.40" r="2.6" fill="#cf0a2c"/>
<circle cx="469.50" cy="320.40" r="2.6" fill="#0b4f8c"/>
<circle cx="479.00" cy="320.40" r="2.6" fill="#3ab54a"/>
<circle cx="488.30" cy="320.40" r="2.6" fill="#5b1f72"/>
<circle cx="497.80" cy="320.40" r="2.6" fill="#f7901e"/>
<circle cx="507.30" cy="320.40" r="2.6" fill="#0d5e48"/>
<text x="335.80" y="333.10" font-size="8.4" text-anchor="middle" textLength="17.0" lengthAdjust="spacingAndGlyphs">9 Gy</text>
<text x="335.80" y="341.40" font-size="8.4" text-anchor="middle" textLength="11.4" lengthAdjust="spacingAndGlyphs">TBI</text>
<text x="408.20" y="333.10" font-size="8.4" text-anchor="middle" textLength="41" lengthAdjust="spacingAndGlyphs">CD45-ADC</text>
<text x="481.50" y="333.10" font-size="8.4" text-anchor="middle" textLength="46" lengthAdjust="spacingAndGlyphs">Isotype-ADC</text>
<line x1="386.40" y1="338.10" x2="498.40" y2="338.10" stroke="#231f20" stroke-width="1.1"/>
<text x="443.80" y="347.00" font-size="8.4" text-anchor="middle" textLength="22.2" lengthAdjust="spacingAndGlyphs">Single</text>
<text x="444.30" y="355.20" font-size="8.4" text-anchor="middle" textLength="29.5" lengthAdjust="spacingAndGlyphs">3 mg/kg</text>
<line x1="470.30" y1="199.30" x2="479.90" y2="199.30" stroke="#333" stroke-width="1.4"/>
<circle cx="475.10" cy="199.30" r="2.6" fill="#cf0a2c"/>
<text x="484.70" y="202.00" font-size="7.6" textLength="24.47" lengthAdjust="spacingAndGlyphs">Week 0</text>
<line x1="470.30" y1="210.75" x2="479.90" y2="210.75" stroke="#333" stroke-width="1.4"/>
<circle cx="475.10" cy="210.75" r="2.6" fill="#0b4f8c"/>
<text x="484.70" y="213.45" font-size="7.6" textLength="24.47" lengthAdjust="spacingAndGlyphs">Week 4</text>
<line x1="470.30" y1="222.20" x2="479.90" y2="222.20" stroke="#333" stroke-width="1.4"/>
<circle cx="475.10" cy="222.20" r="2.6" fill="#3ab54a"/>
<text x="484.70" y="224.90" font-size="7.6" textLength="24.47" lengthAdjust="spacingAndGlyphs">Week 8</text>
<line x1="470.30" y1="233.65" x2="479.90" y2="233.65" stroke="#333" stroke-width="1.4"/>
<circle cx="475.10" cy="233.65" r="2.6" fill="#5b1f72"/>
<text x="484.70" y="236.35" font-size="7.6" textLength="28.51" lengthAdjust="spacingAndGlyphs">Week 12</text>
<line x1="470.30" y1="245.10" x2="479.90" y2="245.10" stroke="#333" stroke-width="1.4"/>
<circle cx="475.10" cy="245.10" r="2.6" fill="#f7901e"/>
<text x="484.70" y="247.80" font-size="7.6" textLength="28.51" lengthAdjust="spacingAndGlyphs">Week 16</text>
<line x1="470.30" y1="256.55" x2="479.90" y2="256.55" stroke="#333" stroke-width="1.4"/>
<circle cx="475.10" cy="256.55" r="2.6" fill="#0d5e48"/>
<text x="484.70" y="259.25" font-size="7.6" textLength="28.51" lengthAdjust="spacingAndGlyphs">Week 20</text>
<text x="7.60" y="375.70" font-size="11.8" font-weight="bold">B</text>
<rect x="56.50" y="401.73" width="33.60" height="77.67" fill="#e08494"/>
<rect x="107.10" y="401.73" width="33.20" height="77.67" fill="#87a6c3"/>
<rect x="157.20" y="463.87" width="33.30" height="15.53" fill="#9cd9a2"/>
<line x1="39.90" y1="382.60" x2="39.90" y2="480.00" stroke="#262626" stroke-width="1.45"/>
<line x1="39.30" y1="479.40" x2="207.00" y2="479.40" stroke="#262626" stroke-width="1.45"/>
<line x1="36.60" y1="479.40" x2="39.90" y2="479.40" stroke="#231f20" stroke-width="1.1"/>
<text x="33.60" y="482.50" font-size="8.9" text-anchor="end" textLength="4.3" lengthAdjust="spacingAndGlyphs">0</text>
<line x1="36.60" y1="463.87" x2="39.90" y2="463.87" stroke="#231f20" stroke-width="1.1"/>
<text x="33.60" y="466.97" font-size="8.9" text-anchor="end" textLength="8.6" lengthAdjust="spacingAndGlyphs">20</text>
<line x1="36.60" y1="448.33" x2="39.90" y2="448.33" stroke="#231f20" stroke-width="1.1"/>
<text x="33.60" y="451.43" font-size="8.9" text-anchor="end" textLength="8.6" lengthAdjust="spacingAndGlyphs">40</text>
<line x1="36.60" y1="432.80" x2="39.90" y2="432.80" stroke="#231f20" stroke-width="1.1"/>
<text x="33.60" y="435.90" font-size="8.9" text-anchor="end" textLength="8.6" lengthAdjust="spacingAndGlyphs">60</text>
<line x1="36.60" y1="417.27" x2="39.90" y2="417.27" stroke="#231f20" stroke-width="1.1"/>
<text x="33.60" y="420.37" font-size="8.9" text-anchor="end" textLength="8.6" lengthAdjust="spacingAndGlyphs">80</text>
<line x1="36.60" y1="401.73" x2="39.90" y2="401.73" stroke="#231f20" stroke-width="1.1"/>
<text x="33.60" y="404.83" font-size="8.9" text-anchor="end" textLength="12.89" lengthAdjust="spacingAndGlyphs">100</text>
<line x1="36.60" y1="386.20" x2="39.90" y2="386.20" stroke="#231f20" stroke-width="1.1"/>
<text x="33.60" y="389.30" font-size="8.9" text-anchor="end" textLength="12.89" lengthAdjust="spacingAndGlyphs">120</text>
<line x1="73.50" y1="479.40" x2="73.50" y2="482.40" stroke="#231f20" stroke-width="1.1"/>
<line x1="123.70" y1="479.40" x2="123.70" y2="482.40" stroke="#231f20" stroke-width="1.1"/>
<line x1="173.80" y1="479.40" x2="173.80" y2="482.40" stroke="#231f20" stroke-width="1.1"/>
<text transform="translate(15.60,433.00) rotate(-90)" x="0" y="0" font-size="9.6" text-anchor="middle" textLength="62" lengthAdjust="spacingAndGlyphs">% CD45.1+ of LSK</text>
<line x1="59.50" y1="401.73" x2="87.10" y2="401.73" stroke="#333" stroke-width="0.9"/>
<line x1="115.10" y1="401.73" x2="132.30" y2="401.73" stroke="#333" stroke-width="0.9"/>
<circle cx="62.10" cy="401.43" r="2.0" fill="#cf0a2c"/>
<circle cx="67.70" cy="401.43" r="2.0" fill="#cf0a2c"/>
<circle cx="73.30" cy="401.43" r="2.0" fill="#cf0a2c"/>
<circle cx="78.90" cy="401.43" r="2.0" fill="#cf0a2c"/>
<circle cx="84.50" cy="401.43" r="2.0" fill="#cf0a2c"/>
<circle cx="118.30" cy="401.43" r="2.0" fill="#0b4f8c"/>
<circle cx="123.70" cy="401.43" r="2.0" fill="#0b4f8c"/>
<circle cx="129.10" cy="401.43" r="2.0" fill="#0b4f8c"/>
<line x1="165.30" y1="461.30" x2="182.30" y2="461.30" stroke="#231f20" stroke-width="1.2"/>
<line x1="173.80" y1="461.30" x2="173.80" y2="463.80" stroke="#231f20" stroke-width="1.0"/>
<circle cx="173.80" cy="456.60" r="2.0" fill="#3ab54a"/>
<circle cx="168.50" cy="464.30" r="2.0" fill="#3ab54a"/>
<circle cx="179.20" cy="465.40" r="2.0" fill="#3ab54a"/>
<circle cx="173.80" cy="468.80" r="2.0" fill="#3ab54a"/>
<polygon points="175.60,443.80 176.22,445.45 177.98,445.53 176.60,446.62 177.07,448.32 175.60,447.35 174.13,448.32 174.60,446.62 173.22,445.53 174.98,445.45" fill="#231f20"/>
<text x="74.30" y="491.60" font-size="8.4" text-anchor="middle" textLength="15.6" lengthAdjust="spacingAndGlyphs">9 Gy</text>
<text x="74.30" y="499.60" font-size="8.4" text-anchor="middle" textLength="10.6" lengthAdjust="spacingAndGlyphs">TBI</text>
<text x="126.50" y="491.70" font-size="8.4" text-anchor="middle" textLength="37.5" lengthAdjust="spacingAndGlyphs">CD45-ADC</text>
<text x="178.00" y="491.70" font-size="8.4" text-anchor="middle" textLength="42" lengthAdjust="spacingAndGlyphs">Isotype-ADC</text>
<line x1="106.30" y1="495.60" x2="192.50" y2="495.60" stroke="#231f20" stroke-width="1.1"/>
<text x="150.80" y="503.70" font-size="8.4" text-anchor="middle" textLength="20.5" lengthAdjust="spacingAndGlyphs">Single</text>
<text x="152.40" y="512.20" font-size="7.9" text-anchor="middle" textLength="27.2" lengthAdjust="spacingAndGlyphs">3 mg/kg</text>
<rect x="274.60" y="402.17" width="33.60" height="77.33" fill="#e08494"/>
<rect x="324.60" y="402.17" width="33.90" height="77.33" fill="#87a6c3"/>
<rect x="375.00" y="461.71" width="33.50" height="17.79" fill="#9cd9a2"/>
<line x1="257.40" y1="383.80" x2="257.40" y2="480.10" stroke="#262626" stroke-width="1.45"/>
<line x1="256.80" y1="479.50" x2="425.30" y2="479.50" stroke="#262626" stroke-width="1.45"/>
<line x1="254.10" y1="479.50" x2="257.40" y2="479.50" stroke="#231f20" stroke-width="1.1"/>
<text x="251.60" y="482.60" font-size="8.9" text-anchor="end" textLength="4.3" lengthAdjust="spacingAndGlyphs">0</text>
<line x1="254.10" y1="464.03" x2="257.40" y2="464.03" stroke="#231f20" stroke-width="1.1"/>
<text x="251.60" y="467.13" font-size="8.9" text-anchor="end" textLength="8.6" lengthAdjust="spacingAndGlyphs">20</text>
<line x1="254.10" y1="448.57" x2="257.40" y2="448.57" stroke="#231f20" stroke-width="1.1"/>
<text x="251.60" y="451.67" font-size="8.9" text-anchor="end" textLength="8.6" lengthAdjust="spacingAndGlyphs">40</text>
<line x1="254.10" y1="433.10" x2="257.40" y2="433.10" stroke="#231f20" stroke-width="1.1"/>
<text x="251.60" y="436.20" font-size="8.9" text-anchor="end" textLength="8.6" lengthAdjust="spacingAndGlyphs">60</text>
<line x1="254.10" y1="417.63" x2="257.40" y2="417.63" stroke="#231f20" stroke-width="1.1"/>
<text x="251.60" y="420.73" font-size="8.9" text-anchor="end" textLength="8.6" lengthAdjust="spacingAndGlyphs">80</text>
<line x1="254.10" y1="402.17" x2="257.40" y2="402.17" stroke="#231f20" stroke-width="1.1"/>
<text x="251.60" y="405.27" font-size="8.9" text-anchor="end" textLength="12.89" lengthAdjust="spacingAndGlyphs">100</text>
<line x1="254.10" y1="386.70" x2="257.40" y2="386.70" stroke="#231f20" stroke-width="1.1"/>
<text x="251.60" y="389.80" font-size="8.9" text-anchor="end" textLength="12.89" lengthAdjust="spacingAndGlyphs">120</text>
<line x1="291.40" y1="479.50" x2="291.40" y2="482.50" stroke="#231f20" stroke-width="1.1"/>
<line x1="341.60" y1="479.50" x2="341.60" y2="482.50" stroke="#231f20" stroke-width="1.1"/>
<line x1="391.60" y1="479.50" x2="391.60" y2="482.50" stroke="#231f20" stroke-width="1.1"/>
<text transform="translate(234.60,431.20) rotate(-90)" x="0" y="0" font-size="9.6" text-anchor="middle" textLength="76.3" lengthAdjust="spacingAndGlyphs">% CD45.1+ of ST-HSCs</text>
<line x1="277.60" y1="402.17" x2="305.20" y2="402.17" stroke="#333" stroke-width="0.9"/>
<line x1="332.60" y1="402.17" x2="350.50" y2="402.17" stroke="#333" stroke-width="0.9"/>
<circle cx="280.20" cy="401.87" r="2.0" fill="#cf0a2c"/>
<circle cx="285.80" cy="401.87" r="2.0" fill="#cf0a2c"/>
<circle cx="291.40" cy="401.87" r="2.0" fill="#cf0a2c"/>
<circle cx="297.00" cy="401.87" r="2.0" fill="#cf0a2c"/>
<circle cx="302.60" cy="401.87" r="2.0" fill="#cf0a2c"/>
<circle cx="336.15" cy="401.87" r="2.0" fill="#0b4f8c"/>
<circle cx="341.55" cy="401.87" r="2.0" fill="#0b4f8c"/>
<circle cx="346.95" cy="401.87" r="2.0" fill="#0b4f8c"/>
<line x1="383.10" y1="458.70" x2="400.10" y2="458.70" stroke="#231f20" stroke-width="1.2"/>
<line x1="391.60" y1="458.70" x2="391.60" y2="461.90" stroke="#231f20" stroke-width="1.0"/>
<circle cx="391.60" cy="454.00" r="2.0" fill="#3ab54a"/>
<circle cx="386.20" cy="462.60" r="2.0" fill="#3ab54a"/>
<circle cx="397.40" cy="463.00" r="2.0" fill="#3ab54a"/>
<circle cx="391.60" cy="467.00" r="2.0" fill="#3ab54a"/>
<polygon points="391.60,438.30 392.22,439.95 393.98,440.03 392.60,441.12 393.07,442.82 391.60,441.85 390.13,442.82 390.60,441.12 389.22,440.03 390.98,439.95" fill="#231f20"/>
<text x="291.50" y="491.70" font-size="8.4" text-anchor="middle" textLength="15.6" lengthAdjust="spacingAndGlyphs">9 Gy</text>
<text x="291.50" y="499.70" font-size="8.4" text-anchor="middle" textLength="10.6" lengthAdjust="spacingAndGlyphs">TBI</text>
<text x="343.70" y="491.80" font-size="8.4" text-anchor="middle" textLength="37.5" lengthAdjust="spacingAndGlyphs">CD45-ADC</text>
<text x="394.80" y="491.80" font-size="8.4" text-anchor="middle" textLength="42" lengthAdjust="spacingAndGlyphs">Isotype-ADC</text>
<line x1="323.70" y1="495.70" x2="409.70" y2="495.70" stroke="#231f20" stroke-width="1.1"/>
<text x="368.00" y="503.80" font-size="8.4" text-anchor="middle" textLength="20.5" lengthAdjust="spacingAndGlyphs">Single</text>
<text x="369.60" y="512.30" font-size="7.9" text-anchor="middle" textLength="27.2" lengthAdjust="spacingAndGlyphs">3 mg/kg</text>
<rect x="57.30" y="540.55" width="33.50" height="77.75" fill="#e08494"/>
<rect x="107.70" y="540.55" width="33.00" height="77.75" fill="#87a6c3"/>
<rect x="158.50" y="617.29" width="32.30" height="1.01" fill="#9cd9a2"/>
<line x1="40.40" y1="521.70" x2="40.40" y2="618.90" stroke="#262626" stroke-width="1.45"/>
<line x1="39.80" y1="618.30" x2="207.60" y2="618.30" stroke="#262626" stroke-width="1.45"/>
<line x1="37.10" y1="618.30" x2="40.40" y2="618.30" stroke="#231f20" stroke-width="1.1"/>
<text x="33.90" y="621.40" font-size="8.9" text-anchor="end" textLength="4.3" lengthAdjust="spacingAndGlyphs">0</text>
<line x1="37.10" y1="602.75" x2="40.40" y2="602.75" stroke="#231f20" stroke-width="1.1"/>
<text x="33.90" y="605.85" font-size="8.9" text-anchor="end" textLength="8.6" lengthAdjust="spacingAndGlyphs">20</text>
<line x1="37.10" y1="587.20" x2="40.40" y2="587.20" stroke="#231f20" stroke-width="1.1"/>
<text x="33.90" y="590.30" font-size="8.9" text-anchor="end" textLength="8.6" lengthAdjust="spacingAndGlyphs">40</text>
<line x1="37.10" y1="571.65" x2="40.40" y2="571.65" stroke="#231f20" stroke-width="1.1"/>
<text x="33.90" y="574.75" font-size="8.9" text-anchor="end" textLength="8.6" lengthAdjust="spacingAndGlyphs">60</text>
<line x1="37.10" y1="556.10" x2="40.40" y2="556.10" stroke="#231f20" stroke-width="1.1"/>
<text x="33.90" y="559.20" font-size="8.9" text-anchor="end" textLength="8.6" lengthAdjust="spacingAndGlyphs">80</text>
<line x1="37.10" y1="540.55" x2="40.40" y2="540.55" stroke="#231f20" stroke-width="1.1"/>
<text x="33.90" y="543.65" font-size="8.9" text-anchor="end" textLength="12.89" lengthAdjust="spacingAndGlyphs">100</text>
<line x1="37.10" y1="525.00" x2="40.40" y2="525.00" stroke="#231f20" stroke-width="1.1"/>
<text x="33.90" y="528.10" font-size="8.9" text-anchor="end" textLength="12.89" lengthAdjust="spacingAndGlyphs">120</text>
<line x1="74.00" y1="618.30" x2="74.00" y2="621.30" stroke="#231f20" stroke-width="1.1"/>
<line x1="124.30" y1="618.30" x2="124.30" y2="621.30" stroke="#231f20" stroke-width="1.1"/>
<line x1="175.80" y1="618.30" x2="175.80" y2="621.30" stroke="#231f20" stroke-width="1.1"/>
<text transform="translate(15.30,571.30) rotate(-90)" x="0" y="0" font-size="9.6" text-anchor="middle" textLength="76" lengthAdjust="spacingAndGlyphs">% CD45.1+ of LT-HSCs</text>
<line x1="60.30" y1="540.55" x2="87.80" y2="540.55" stroke="#333" stroke-width="0.9"/>
<line x1="115.70" y1="540.55" x2="132.70" y2="540.55" stroke="#333" stroke-width="0.9"/>
<circle cx="62.85" cy="540.25" r="2.0" fill="#cf0a2c"/>
<circle cx="68.45" cy="540.25" r="2.0" fill="#cf0a2c"/>
<circle cx="74.05" cy="540.25" r="2.0" fill="#cf0a2c"/>
<circle cx="79.65" cy="540.25" r="2.0" fill="#cf0a2c"/>
<circle cx="85.25" cy="540.25" r="2.0" fill="#cf0a2c"/>
<circle cx="118.80" cy="540.25" r="2.0" fill="#0b4f8c"/>
<circle cx="124.20" cy="540.25" r="2.0" fill="#0b4f8c"/>
<circle cx="129.60" cy="540.25" r="2.0" fill="#0b4f8c"/>
<line x1="175.00" y1="617.00" x2="175.00" y2="617.00" stroke="#231f20" stroke-width="1.2"/>
<line x1="175.00" y1="617.00" x2="175.00" y2="617.00" stroke="#231f20" stroke-width="1.0"/>
<circle cx="166.50" cy="617.00" r="2.0" fill="#3ab54a"/>
<circle cx="171.60" cy="618.40" r="2.0" fill="#3ab54a"/>
<circle cx="176.90" cy="617.40" r="2.0" fill="#3ab54a"/>
<circle cx="182.70" cy="616.00" r="2.0" fill="#3ab54a"/>
<polygon points="175.30,593.60 175.92,595.25 177.68,595.33 176.30,596.42 176.77,598.12 175.30,597.15 173.83,598.12 174.30,596.42 172.92,595.33 174.68,595.25" fill="#231f20"/>
<text x="74.30" y="630.50" font-size="8.4" text-anchor="middle" textLength="15.6" lengthAdjust="spacingAndGlyphs">9 Gy</text>
<text x="74.30" y="638.50" font-size="8.4" text-anchor="middle" textLength="10.6" lengthAdjust="spacingAndGlyphs">TBI</text>
<text x="126.20" y="630.60" font-size="8.4" text-anchor="middle" textLength="37.5" lengthAdjust="spacingAndGlyphs">CD45-ADC</text>
<text x="177.20" y="630.60" font-size="8.4" text-anchor="middle" textLength="42" lengthAdjust="spacingAndGlyphs">Isotype-ADC</text>
<line x1="106.50" y1="634.50" x2="191.50" y2="634.50" stroke="#231f20" stroke-width="1.1"/>
<text x="151.90" y="642.60" font-size="8.4" text-anchor="middle" textLength="20.5" lengthAdjust="spacingAndGlyphs">Single</text>
<text x="153.50" y="651.10" font-size="7.9" text-anchor="middle" textLength="27.2" lengthAdjust="spacingAndGlyphs">3 mg/kg</text>
</g>
<rect x="0" y="0" width="520" height="1.1" fill="#000"/>
<rect x="0" y="0" width="1.05" height="658" fill="#000"/>
<rect x="518.8" y="0" width="1.2" height="658" fill="#000"/>
<rect x="0" y="656.8" width="520" height="1.2" fill="#000"/>
</svg>
</body></html>
